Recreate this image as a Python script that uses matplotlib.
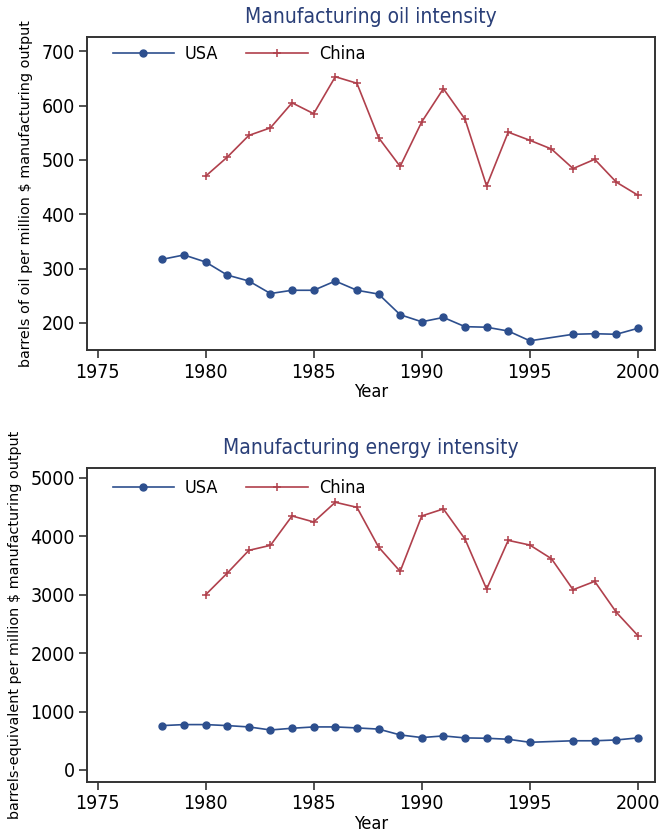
import matplotlib
matplotlib.use('Agg')

import matplotlib.pyplot as plt
from matplotlib.font_manager import FontProperties

# dados
years_usa = [1978, 1979, 1980, 1981, 1982, 1983, 1984, 1985, 1986, 1987, 1988,
             1989, 1990, 1991, 1992, 1993, 1994, 1995, 1997, 1998, 1999, 2000]
years_china = list(range(1980, 2001))

usa_oil = [317, 325, 312, 288, 277, 254, 260, 260, 277, 260, 253,
           215, 202, 210, 193, 192, 185, 167, 179, 180, 179, 190]
china_oil = [470, 505, 545, 559, 605, 585, 653, 641, 541, 488, 570,
             631, 575, 452, 551, 536, 520, 484, 501, 459, 435]

usa_energy = [760, 777, 777, 760, 737, 685, 714, 737, 737, 720, 700,
              600, 555, 583, 549, 543, 526, 474, 500, 500, 514, 549]
china_energy = [3000, 3370, 3760, 3846, 4349, 4246, 4583, 4497, 3817, 3400, 4349,
                4469, 3954, 3097, 3931, 3851, 3617, 3086, 3229, 2700, 2300]

titles = ["Manufacturing oil intensity", "Manufacturing energy intensity"]
ylabels = ["barrels of oil per million $ manufacturing output",
           "barrels-equivalent per million $ manufacturing output"]
xticks = [1975, 1980, 1985, 1990, 1995, 2000]

def cond(size):
    return FontProperties(family='DejaVu Sans', stretch='condensed', size=size)

usa_color = '#2d4f8e'
china_color = '#b0404c'

fig = plt.figure(figsize=(6.67, 8.36), dpi=100)
ax1 = fig.add_axes([0.131, 0.5813, 0.851, 0.375])
ax2 = fig.add_axes([0.131, 0.0650, 0.851, 0.3752])

panels = [
    (ax1, usa_oil, china_oil, (150, 727), range(200, 701, 100), 0.944),
    (ax2, usa_energy, china_energy, (-200, 5170), range(0, 5001, 1000), 0.936),
]

for i, (ax, usa, china, ylim, yticks, legy) in enumerate(panels):
    ax.plot(years_usa, usa, color=usa_color, lw=1.2, marker='o', ms=5, label='USA')
    ax.plot(years_china, china, color=china_color, lw=1.2, marker='+', ms=6, mew=1.1, label='China')
    ax.set_xlim(1974.53, 2000.79)
    ax.set_ylim(*ylim)
    ax.set_xticks(xticks)
    ax.set_yticks(list(yticks))
    for lab in ax.get_xticklabels() + ax.get_yticklabels():
        lab.set_fontproperties(cond(14))
    ax.tick_params(direction='out', length=6, width=1.2, color='#333333', pad=3)
    for s in ax.spines.values():
        s.set_linewidth(1.4)
        s.set_color('#333333')
    ax.set_title(titles[i], fontproperties=cond(15), color='#2a3f78', pad=10)
    ax.set_xlabel("Year", fontproperties=cond(13), labelpad=1)
    ax.set_ylabel(ylabels[i], family='DejaVu Sans', fontsize=10.4, labelpad=6)
    ax.legend(loc='center left', bbox_to_anchor=(0.032, legy), ncol=2, frameon=False,
              handlelength=3.4, handletextpad=0.6, columnspacing=1.55, borderaxespad=0,
              prop=cond(13))

plt.savefig('out.png', dpi=100)
